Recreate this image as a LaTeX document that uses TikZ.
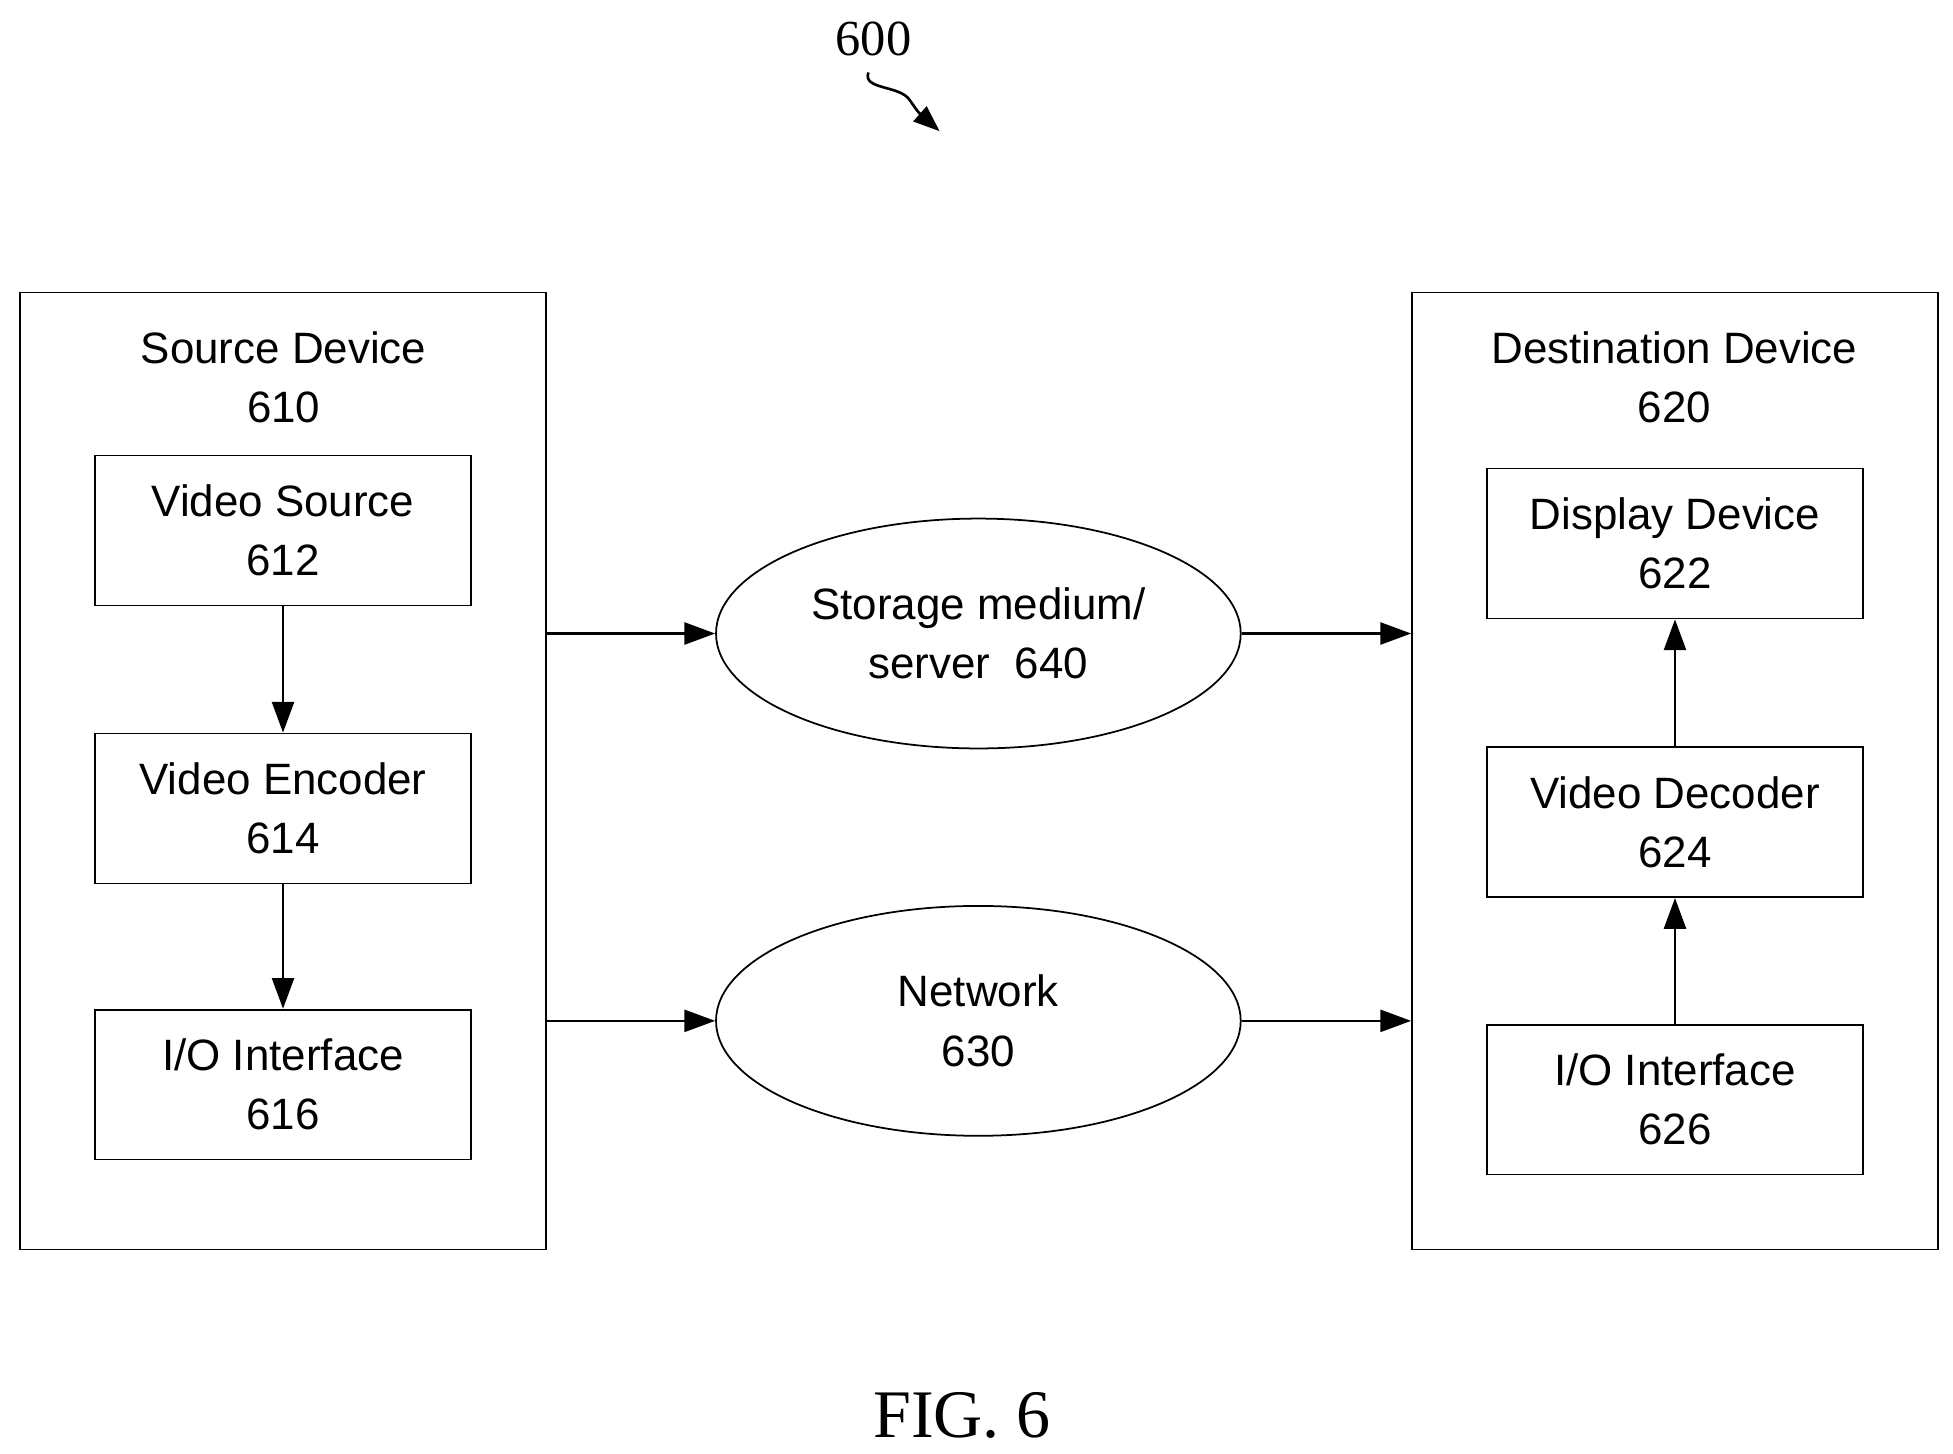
\documentclass[tikz,border=0pt]{standalone}
\usepackage{fontspec}
\setmainfont{Liberation Sans}
\newfontfamily\serif{Liberation Serif}
\usetikzlibrary{arrows.meta,shapes.geometric}
\begin{document}
\begin{tikzpicture}[x=0.02cm,y=-0.02cm,
  box/.style={draw,line width=0.8pt,minimum width=6.02cm,minimum height=2.4cm,align=center,font=\fontsize{20}{27}\selectfont,inner sep=0pt},
  outer/.style={draw,line width=0.8pt,minimum width=8.42cm,minimum height=15.32cm},
  ell/.style={draw,ellipse,line width=0.8pt,minimum width=8.4cm,minimum height=3.68cm,align=center,font=\fontsize{20}{27}\selectfont},
  ttl/.style={align=center,font=\fontsize{20}{27}\selectfont},
  arr/.style={line width=1.2pt,-{Triangle[length=14pt,width=10pt]}}]
\useasboundingbox (0,0) rectangle (1563,1163);
\node[outer] (src) at (226.5,617) {};
\node[outer] (dst) at (1340.5,617) {};
\node[ttl] (srct) at (227,302) {Source Device\\610};
\node[ttl] (dstt) at (1340,302) {Destination Device\\620};
\node[box] (vs) at (226.5,424.5) {Video Source\\612};
\node[box] (ve) at (226.5,647) {Video Encoder\\614};
\node[box] (io1) at (226.5,868) {I/O Interface\\616};
\node[box] (dd) at (1340.5,435) {Display Device\\622};
\node[box] (vd) at (1340.5,658) {Video Decoder\\624};
\node[box] (io2) at (1340.5,880) {I/O Interface\\626};
\node[ell] (sm) at (783,507) {Storage medium/\\server\ \ 640};
\node[ell] (nw) at (783,817) {Network\\630};
\draw[arr] (vs) -- (ve);
\draw[arr] (ve) -- (io1);
\draw[arr] (io2) -- (vd);
\draw[arr] (vd) -- (dd);
\draw[arr] (src.east |- sm) -- (sm);
\draw[arr] (sm) -- (dst.west |- sm);
\draw[arr] (src.east |- nw) -- (nw);
\draw[arr] (nw) -- (dst.west |- nw);
\node[font=\serif\fontsize{23}{27}\selectfont] (lbl) at (699,31) {600};
\coordinate (sq) at (695,58);
\coordinate (sqe) at (752,105);
\draw[line width=1.2pt,-{Triangle[length=12pt,width=9pt]}] (sq) .. controls (690,72) and (720,68) .. (728,80) .. controls (735,90) .. (sqe);
\node[font=\serif\fontsize{31}{36}\selectfont] (fig) at (770,1133) {FIG. 6};
\end{tikzpicture}
\end{document}
